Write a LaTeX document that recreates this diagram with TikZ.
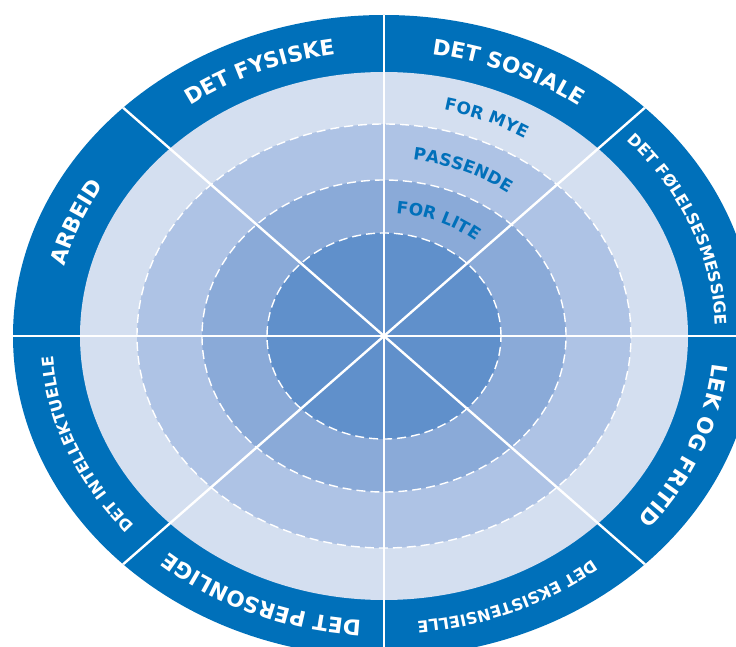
\documentclass[tikz,border=0pt]{standalone}
\usepackage{fontspec}
\setmainfont{DejaVu Sans}
\usetikzlibrary{decorations.text}
\definecolor{band}{RGB}{0,112,186}
\definecolor{ringA}{RGB}{212,223,240}
\definecolor{ringB}{RGB}{174,195,229}
\definecolor{ringC}{RGB}{138,170,216}
\definecolor{ringD}{RGB}{96,144,203}
\newcommand{\bigfmt}{\fontsize{21.5}{25}\selectfont\bfseries}
\newcommand{\smallfmt}{\fontsize{16}{19}\selectfont\bfseries}
\newcommand{\innerfmt}{\fontsize{17}{20}\selectfont\bfseries}
\tikzset{
  dashring/.style={draw=white, line width=1.4pt, dash pattern=on 9pt off 5pt},
  spoke/.style={draw=white, line width=2.4pt},
  biglabel/.style={decorate, decoration={text along path, text align=center,
      text color=white, text={|\bigfmt|#1}}},
  smalllabel/.style={decorate, decoration={text along path, text align=center,
      text color=white, text={|\smallfmt|#1}}},
  innerlabel/.style={decorate, decoration={text along path, text align=center,
      text color=band, text={|\innerfmt|#1}}}
}
\begin{document}
\begin{tikzpicture}
\useasboundingbox (0,0) rectangle (736pt,646pt);
\clip (0,0) rectangle (736pt,646pt);
\begin{scope}[shift={(384pt,310pt)}]
  \coordinate (C) at (0,0);
  % rings
  \fill[band]  (C) ellipse[x radius=371pt, y radius=321pt];
  \fill[ringA] (C) ellipse[x radius=304pt, y radius=264pt];
  \fill[ringB] (C) ellipse[x radius=247pt, y radius=212pt];
  \fill[ringC] (C) ellipse[x radius=182pt, y radius=156pt];
  \fill[ringD] (C) ellipse[x radius=117pt, y radius=103pt];
  \draw[dashring] (C) ellipse[x radius=247pt, y radius=212pt];
  \draw[dashring] (C) ellipse[x radius=182pt, y radius=156pt];
  \draw[dashring] (C) ellipse[x radius=117pt, y radius=103pt];
  % spokes
  \begin{scope}
    \clip (C) ellipse[x radius=371pt, y radius=321pt];
    \foreach \a in {0,45,...,315}
      \draw[spoke] (C) -- ++(\a:400pt and 350pt);
  \end{scope}
  % outer labels (clockwise, tops outward)
  \path[smalllabel=DET FØLELSESMESSIGE] (C) ++(45:331.7pt and 286.7pt)
     arc[start angle=45, end angle=0, x radius=331.7pt, y radius=286.7pt];
  \path[biglabel=DET SOSIALE] (C) ++(90:329.7pt and 284.7pt)
     arc[start angle=90, end angle=45, x radius=329.7pt, y radius=284.7pt];
  \path[biglabel=DET FYSISKE] (C) ++(135:329.7pt and 284.7pt)
     arc[start angle=135, end angle=90, x radius=329.7pt, y radius=284.7pt];
  \path[biglabel=ARBEID] (C) ++(180:329.7pt and 284.7pt)
     arc[start angle=180, end angle=135, x radius=329.7pt, y radius=284.7pt];
  \path[smalllabel=DET INTELLEKTUELLE] (C) ++(225:331.7pt and 286.7pt)
     arc[start angle=225, end angle=180, x radius=331.7pt, y radius=286.7pt];
  \path[biglabel=DET PERSONLIGE] (C) ++(270:329.7pt and 284.7pt)
     arc[start angle=270, end angle=225, x radius=329.7pt, y radius=284.7pt];
  \path[smalllabel=DET EKSISTENSIELLE] (C) ++(315:331.7pt and 286.7pt)
     arc[start angle=315, end angle=270, x radius=331.7pt, y radius=286.7pt];
  \path[biglabel=LEK OG FRITID] (C) ++(360:329.7pt and 284.7pt)
     arc[start angle=360, end angle=315, x radius=329.7pt, y radius=284.7pt];
  % inner labels
  \path[innerlabel=FOR MYE] (C) ++(90:269.3pt and 231.8pt)
     arc[start angle=90, end angle=45, x radius=269.3pt, y radius=231.8pt];
  \path[innerlabel=PASSENDE] (C) ++(90:208.3pt and 177.8pt)
     arc[start angle=90, end angle=45, x radius=208.3pt, y radius=177.8pt];
  \path[innerlabel=FOR LITE] (C) ++(90:143.3pt and 123.3pt)
     arc[start angle=90, end angle=45, x radius=143.3pt, y radius=123.3pt];
\end{scope}
\end{tikzpicture}
\end{document}
